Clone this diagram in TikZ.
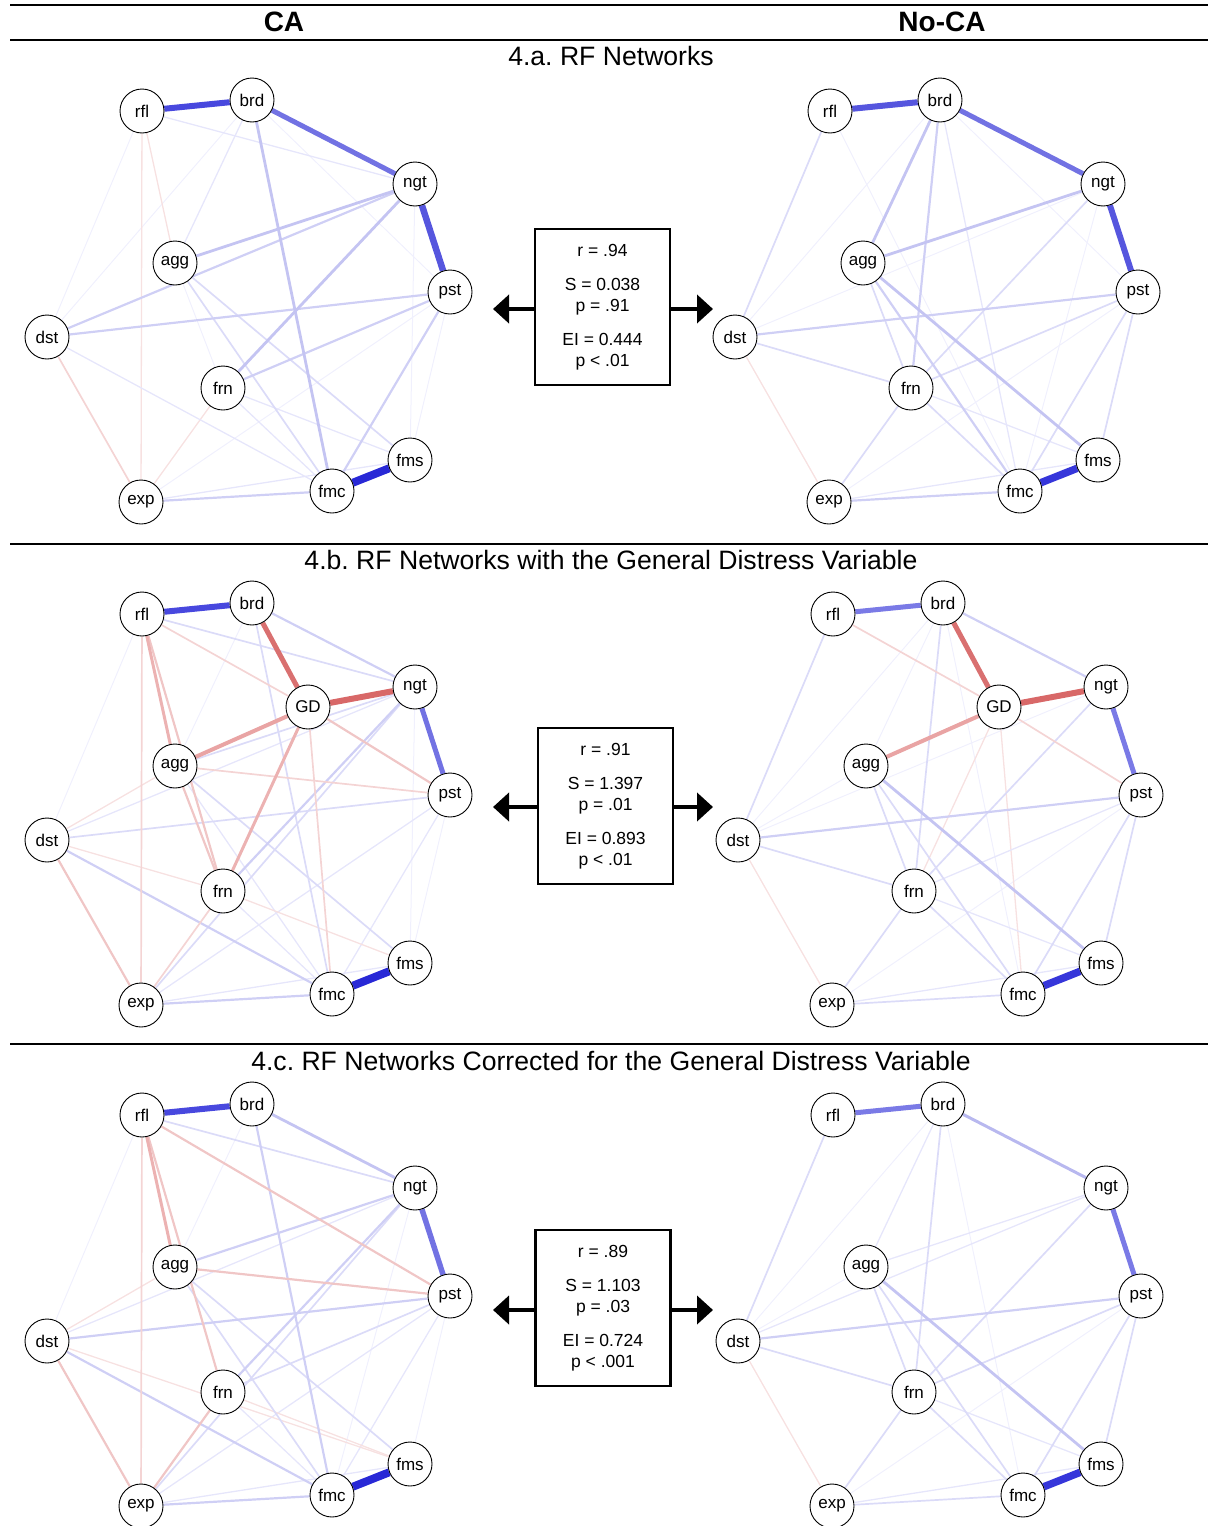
\documentclass[tikz,border=0pt]{standalone}
\usepackage{fontspec}
\setmainfont{Liberation Sans}
\usetikzlibrary{arrows.meta}
\frenchspacing
\pgfdeclarelayer{bg}
\pgfsetlayers{bg,main}
% edge colours (qgraph-like fading)
\definecolor{cb0}{RGB}{240,240,253}
\definecolor{cb1}{RGB}{230,230,251}
\definecolor{cb2}{RGB}{219,219,248}
\definecolor{cb3}{RGB}{207,207,245}
\definecolor{cb4}{RGB}{196,196,242}
\definecolor{cb5}{RGB}{184,184,239}
\definecolor{cr0}{RGB}{251,238,238}
\definecolor{cr1}{RGB}{247,225,225}
\definecolor{cr2}{RGB}{244,212,212}
\definecolor{cr3}{RGB}{240,198,198}
\definecolor{cr4}{RGB}{236,178,178}
\definecolor{cr5}{RGB}{233,164,164}
\definecolor{sdark}{RGB}{40,40,214}
\definecolor{sdarkb}{RGB}{54,54,218}
\definecolor{sblA}{RGB}{72,72,222}
\definecolor{sblB}{RGB}{86,86,222}
\definecolor{sblC}{RGB}{114,114,227}
\definecolor{sblD}{RGB}{122,122,230}
\definecolor{sredA}{RGB}{217,112,112}
\definecolor{sredB}{RGB}{216,104,104}
\tikzset{
  nd/.style={circle, draw, line width=0.9pt, fill=white, minimum size=44pt, inner sep=0pt,
             font=\fontsize{17}{18}\selectfont},
  hdr/.style={font=\fontsize{28}{30}\selectfont\bfseries},
  sub/.style={font=\fontsize{26.6}{28}\selectfont},
  statbox/.style={draw, line width=2.2pt, minimum width=135pt, minimum height=156pt,
                  align=center, inner sep=0pt, font=\fontsize{17.5}{21}\selectfont},
  bigarrow/.style={line width=4.3pt, -{Triangle[length=16pt,width=28pt]}},
  rulebar/.style={line width=1.8pt},
  eb0/.style={cb0, line width=1pt},
  eb1/.style={cb1, line width=1.3pt},
  eb2/.style={cb2, line width=1.7pt},
  eb3/.style={cb3, line width=2.2pt},
  eb4/.style={cb4, line width=2.8pt},
  eb5/.style={cb5, line width=3pt},
  er0/.style={cr0, line width=1pt},
  er1/.style={cr1, line width=1.3pt},
  er2/.style={cr2, line width=1.7pt},
  er3/.style={cr3, line width=2.2pt},
  er4/.style={cr4, line width=3pt},
  er5/.style={cr5, line width=4pt},
}
\newcommand\rfnodes{%
  \node[nd] (rfl) at (142,111) {rfl};
  \node[nd] (brd) at (252,100) {brd};
  \node[nd] (ngt) at (415,184) {ngt};
  \node[nd] (pst) at (450,292) {pst};
  \node[nd] (agg) at (175,263) {agg};
  \node[nd] (dst) at (47,337) {dst};
  \node[nd] (frn) at (223,388) {frn};
  \node[nd] (fms) at (410,460) {fms};
  \node[nd] (fmc) at (332,491) {fmc};
  \node[nd] (exp) at (141,502) {exp};}
\newcommand\edgeset[2]{\foreach \ua/\ub in {#2}{\draw[#1] (\ua) -- (\ub);}}
\begin{document}
\begin{tikzpicture}[x=1pt,y=-1pt]
\useasboundingbox (0,0) rectangle (1208,1526);
% header rules and titles
\draw[rulebar] (10,5) -- (1208,5);
\draw[rulebar] (10,40) -- (1208,40);
\draw[rulebar] (10,544) -- (1208,544);
\draw[rulebar] (10,1044) -- (1208,1044);
\node[hdr] (hCA) at (284,22) {CA};
\node[hdr] (hNoCA) at (942,22) {No-CA};
\node[sub] (tA) at (611,56) {4.a. RF Networks};
\node[sub] (tB) at (611,560) {4.b. RF Networks with the General Distress Variable};
\node[sub] (tC) at (611,1061) {4.c. RF Networks Corrected for the General Distress Variable};

% ---------------- 4.a left
\begin{scope}[name prefix=aL-]
\rfnodes
\begin{pgfonlayer}{bg}
\edgeset{eb0}{dst/brd,rfl/dst,brd/pst,ngt/fms,pst/fms,agg/frn,exp/pst}
\edgeset{er1}{rfl/agg,rfl/exp,frn/exp}
\edgeset{eb1}{dst/fmc,exp/fms,frn/fms,frn/fmc,rfl/ngt,brd/agg}
\edgeset{er2}{dst/exp}
\edgeset{eb2}{agg/fmc,agg/fms}
\edgeset{eb3}{dst/ngt,dst/pst,frn/pst,pst/fmc,exp/fmc}
\edgeset{eb4}{brd/fmc,ngt/agg,ngt/frn}
\draw[line width=5pt, sblC] (brd) -- (ngt);
\draw[line width=6pt, sblA] (rfl) -- (brd);
\draw[line width=6.5pt, sblB] (ngt) -- (pst);
\draw[line width=8pt, sdark] (fmc) -- (fms);
\end{pgfonlayer}
\end{scope}

% ---------------- 4.a right
\begin{scope}[shift={(688,0)}, name prefix=aR-]
\rfnodes
\begin{pgfonlayer}{bg}
\edgeset{eb0}{dst/brd,dst/ngt,ngt/fmc,brd/pst,pst/exp,rfl/fmc}
\edgeset{er1}{dst/exp}
\edgeset{eb1}{exp/fms,frn/fms,brd/fmc}
\edgeset{eb2}{agg/frn,ngt/frn,pst/fmc,exp/frn,dst/rfl,dst/frn,pst/frn,pst/fms,frn/fmc}
\edgeset{eb3}{brd/frn,agg/fmc,dst/pst,exp/fmc}
\edgeset{eb4}{brd/agg,agg/ngt,agg/fms}
\draw[line width=5pt, sblC] (brd) -- (ngt);
\draw[line width=6pt, sblB] (rfl) -- (brd);
\draw[line width=6pt, sblB] (ngt) -- (pst);
\draw[line width=7.5pt, sdarkb] (fmc) -- (fms);
\end{pgfonlayer}
\end{scope}

% ---------------- 4.b left
\begin{scope}[shift={(0,503)}, name prefix=bL-]
\rfnodes
\node[nd] (GD) at (308,204) {GD};
\begin{pgfonlayer}{bg}
\edgeset{eb0}{brd/agg,rfl/dst,ngt/fms,pst/fms}
\edgeset{eb1}{agg/fmc,pst/fmc,pst/exp,dst/ngt,exp/fms,frn/fmc}
\edgeset{er1}{dst/agg,dst/frn,frn/fms}
\edgeset{eb2}{rfl/ngt,brd/fmc,dst/pst,ngt/exp,ngt/agg,agg/fms}
\edgeset{eb3}{brd/ngt,dst/fmc,ngt/frn,exp/fmc}
\edgeset{er2}{rfl/GD,rfl/exp,agg/pst,GD/fmc,exp/frn}
\edgeset{er3}{GD/pst,rfl/frn,agg/frn,dst/exp}
\edgeset{er4}{GD/frn,rfl/agg}
\edgeset{er5}{GD/agg}
\draw[line width=5pt, sredA] (brd) -- (GD);
\draw[line width=6pt, sredB] (GD) -- (ngt);
\draw[line width=6pt, sblA] (rfl) -- (brd);
\draw[line width=5pt, sblC] (ngt) -- (pst);
\draw[line width=8pt, sdark] (fmc) -- (fms);
\end{pgfonlayer}
\end{scope}

% ---------------- 4.b right
\begin{scope}[shift={(691,503)}, name prefix=bR-]
\rfnodes
\node[nd] (GD) at (308,204) {GD};
\begin{pgfonlayer}{bg}
\edgeset{eb0}{brd/agg,brd/dst,brd/fmc,dst/agg,dst/ngt,pst/exp}
\edgeset{er1}{GD/frn,GD/fmc,dst/exp}
\edgeset{eb1}{pst/frn,exp/fms,frn/fms}
\edgeset{eb2}{agg/fmc,agg/frn,brd/frn,dst/rfl,dst/frn,ngt/frn,pst/fmc,pst/fms,exp/frn,exp/fmc,frn/fmc}
\edgeset{eb3}{brd/ngt,dst/pst}
\edgeset{eb4}{agg/fms}
\edgeset{er2}{rfl/GD,GD/pst}
\draw[line width=4pt, cr5] (GD) -- (agg);
\draw[line width=5pt, sredA] (brd) -- (GD);
\draw[line width=6pt, sredB] (GD) -- (ngt);
\draw[line width=5pt, sblD] (rfl) -- (brd);
\draw[line width=5pt, sblD] (ngt) -- (pst);
\draw[line width=7.5pt, sdarkb] (fmc) -- (fms);
\end{pgfonlayer}
\end{scope}

% ---------------- 4.c left
\begin{scope}[shift={(0,1004)}, name prefix=cL-]
\rfnodes
\begin{pgfonlayer}{bg}
\edgeset{eb0}{rfl/dst,brd/agg,pst/fms,ngt/fmc}
\edgeset{eb1}{dst/ngt,pst/fmc,pst/exp,exp/fms,frn/fmc}
\edgeset{er1}{dst/agg,dst/fms,frn/fms}
\edgeset{eb2}{rfl/ngt,ngt/exp,agg/fmc,agg/fms,frn/pst}
\edgeset{eb3}{brd/fmc,ngt/agg,ngt/frn,dst/pst,dst/fmc,exp/fmc}
\edgeset{er2}{rfl/exp}
\edgeset{er3}{rfl/pst,rfl/frn,agg/pst,dst/exp,frn/exp}
\edgeset{er4}{rfl/agg}
\edgeset{eb4}{brd/ngt}
\draw[line width=6pt, sblA] (rfl) -- (brd);
\draw[line width=5.5pt, sblC] (ngt) -- (pst);
\draw[line width=8pt, sdark] (fmc) -- (fms);
\end{pgfonlayer}
\end{scope}

% ---------------- 4.c right
\begin{scope}[shift={(691,1004)}, name prefix=cR-]
\rfnodes
\begin{pgfonlayer}{bg}
\edgeset{eb0}{brd/dst,brd/fmc,dst/agg,pst/exp}
\edgeset{er1}{dst/exp}
\edgeset{eb1}{brd/agg,agg/ngt,dst/ngt,exp/fms,frn/fms}
\edgeset{eb2}{brd/frn,dst/rfl,dst/frn,agg/fmc,agg/frn,ngt/frn,pst/frn,pst/fmc,pst/fms,exp/frn,exp/fmc,frn/fmc}
\edgeset{eb3}{dst/pst}
\edgeset{eb4}{agg/fms}
\edgeset{eb5}{brd/ngt}
\draw[line width=5pt, sblD] (rfl) -- (brd);
\draw[line width=5pt, sblD] (ngt) -- (pst);
\draw[line width=7.5pt, sdarkb] (fmc) -- (fms);
\end{pgfonlayer}
\end{scope}

% ---------------- statistic boxes with arrows
\node[statbox] (boxA) at (602.5,307) {r = .94\\[13pt]S = 0.038\\p = .91\\[13pt]EI = 0.444\\p < .01};
\coordinate (tipAL) at (493,309);
\coordinate (tipAR) at (713,309);
\draw[bigarrow] (tipAL -| boxA.west) -- (tipAL);
\draw[bigarrow] (tipAR -| boxA.east) -- (tipAR);

\node[statbox] (boxB) at (605.5,806) {r = .91\\[13pt]S = 1.397\\p = .01\\[13pt]EI = 0.893\\p < .01};
\coordinate (tipBL) at (493,807);
\coordinate (tipBR) at (713,807);
\draw[bigarrow] (tipBL -| boxB.west) -- (tipBL);
\draw[bigarrow] (tipBR -| boxB.east) -- (tipBR);

\node[statbox] (boxC) at (603,1308) {r = .89\\[13pt]S = 1.103\\p = .03\\[13pt]EI = 0.724\\p < .001};
\coordinate (tipCL) at (493,1310);
\coordinate (tipCR) at (713,1310);
\draw[bigarrow] (tipCL -| boxC.west) -- (tipCL);
\draw[bigarrow] (tipCR -| boxC.east) -- (tipCR);
\end{tikzpicture}
\end{document}
